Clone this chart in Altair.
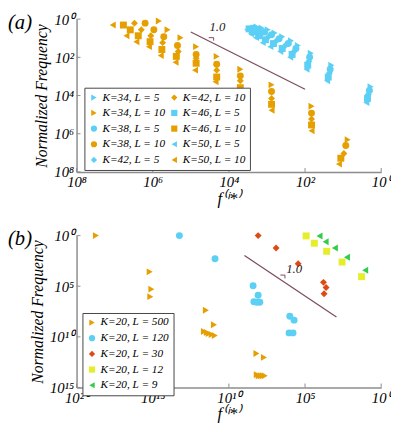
import altair as alt
import pandas as pd

FONT = "Liberation Serif"
GRAY = "#8c8c8c"
LINE_COLOR = "#7a4b5c"

ORANGE = "#E69F00"
CYAN = "#5CCFF5"
RED = "#DD4A14"
YELLOW = "#E4EE2A"
GREEN = "#33CC4A"

# ---------------- panel (a): log10 values ----------------
a_series = ["K=34, L = 5", "K=34, L = 10", "K=38, L = 5", "K=38, L = 10", "K=42, L = 5",
            "K=42, L = 10", "K=46, L = 5", "K=46, L = 10", "K=50, L = 5", "K=50, L = 10"]

a_K34_L10_x = [-5.84, -5.61, -5.27, -4.86, -4.32, -3.70, -2.88, -1.83, -0.88]
a_K34_L10_y = [-0.10, -0.56, -0.97, -1.44, -1.95, -2.62, -3.44, -4.56, -6.31]
a_K38_L10_x = [-6.20, -5.97, -5.71, -5.35, -4.86, -4.32, -3.70, -2.88, -1.83, -0.93]
a_K38_L10_y = [-0.21, -0.56, -0.92, -1.38, -1.85, -2.36, -2.97, -3.79, -4.92, -6.62]
a_K42_L10_x = [-6.48, -6.30, -6.05, -5.74, -5.33, -4.86, -4.32, -3.70, -2.88, -1.83, -0.98]
a_K42_L10_y = [-0.21, -0.56, -0.87, -1.23, -1.69, -2.05, -2.67, -3.23, -4.15, -5.23, -7.03]
a_K46_L10_x = [-6.77, -6.59, -6.38, -6.07, -5.76, -5.38, -4.86, -4.32, -3.70, -2.88, -1.83, -1.06]
a_K46_L10_y = [-0.31, -0.56, -0.87, -1.18, -1.59, -1.95, -2.31, -3.03, -3.59, -4.46, -5.54, -7.28]
a_K50_L10_x = [-7.05, -6.69, -6.43, -6.10, -5.79, -5.40, -4.89, -4.35, -3.70, -2.88, -1.83, -1.11]
a_K50_L10_y = [-0.31, -0.87, -1.18, -1.44, -1.90, -2.26, -2.67, -3.28, -3.90, -4.77, -5.85, -7.59]

a_K34_L5_x = [-3.27, -3.14, -2.98, -2.80, -2.60, -2.37, -2.19, -1.85, -1.31, -0.28]
a_K34_L5_y = [-0.41, -0.46, -0.56, -0.72, -0.92, -1.13, -1.38, -1.79, -2.41, -3.54]
a_K38_L5_x = [-3.34, -3.22, -3.06, -2.88, -2.68, -2.44, -2.24, -1.88, -1.34, -0.31]
a_K38_L5_y = [-0.46, -0.56, -0.67, -0.82, -1.03, -1.28, -1.54, -2.00, -2.62, -3.74]
a_K42_L5_x = [-3.42, -3.29, -3.14, -2.96, -2.75, -2.52, -2.29, -1.90, -1.36, -0.34]
a_K42_L5_y = [-0.46, -0.62, -0.77, -0.92, -1.13, -1.38, -1.69, -2.21, -2.82, -3.95]
a_K46_L5_x = [-3.47, -3.37, -3.22, -3.04, -2.83, -2.60, -2.34, -1.93, -1.39, -0.36]
a_K46_L5_y = [-0.51, -0.67, -0.87, -1.08, -1.28, -1.54, -1.85, -2.41, -3.03, -4.15]
a_K50_L5_x = [-3.52, -3.42, -3.29, -3.11, -2.91, -2.65, -2.39, -1.96, -1.42, -0.39]
a_K50_L5_y = [-0.56, -0.77, -0.97, -1.23, -1.44, -1.69, -2.00, -2.62, -3.23, -4.36]

a_slope_x = [-5.0, -2.0]
a_slope_y = [-0.67, -3.67]
a_corner_x = [-4.53, -4.40, -4.40]
a_corner_y = [-0.97, -0.97, -1.13]
a_note = ["1.0"]
a_note_x = [-4.30]
a_note_y = [-0.41]

a_xticks = [-8, -6, -4, -2, 0]
a_xtick_labels = ["10⁸", "10⁶", "10⁴", "10²", "10⁰"]
a_yticks = [-8, -6, -4, -2, 0]
a_ytick_labels = ["10⁸", "10⁶", "10⁴", "10²", "10⁰"]

# ---------------- panel (b) ----------------
b_series = ["K=20, L = 500", "K=20, L = 120", "K=20, L = 30", "K=20, L = 12", "K=20, L = 9"]

b_L500_x = [-18.73, -15.20, -15.09, -15.16, -11.51, -10.98, -11.64, -11.45, -11.32, -11.13, -10.93,
            -8.19, -7.70, -8.17, -8.04, -7.91, -7.78, -7.65]
b_L500_y = [0.0, -3.58, -5.29, -6.03, -7.38, -8.81, -9.48, -9.58, -9.68, -9.77, -9.87,
            -11.64, -12.03, -13.74, -13.84, -13.84, -13.84, -13.84]
b_L120_x = [-13.25, -10.91, -8.41, -8.08, -8.36, -8.17, -7.97, -6.00, -5.72, -6.05, -5.79]
b_L120_y = [0.0, -2.29, -4.96, -5.90, -6.53, -6.58, -6.58, -7.96, -8.35, -9.61, -9.61]
b_L30_x = [-8.08, -6.90, -5.45, -3.79, -3.62, -3.75]
b_L30_y = [0.0, -1.23, -2.78, -4.62, -5.13, -5.74]
b_L12_x = [-4.93, -4.39, -3.58, -2.57, -1.29]
b_L12_y = [-0.03, -0.75, -1.55, -2.61, -4.06]
b_L9_x = [-4.05, -3.65, -3.04, -2.25, -1.05]
b_L9_y = [-0.03, -0.61, -1.23, -2.13, -3.42]

b_slope_x = [-8.98, -2.94]
b_slope_y = [-1.96, -8.03]
b_corner_x = [-6.62, -6.32, -6.32]
b_corner_y = [-3.90, -3.90, -4.23]
b_note = ["1.0"]
b_note_x = [-5.72]
b_note_y = [-3.29]

b_xticks = [-20, -15, -10, -5, 0]
b_xtick_labels = ["10²⁰", "10¹⁵", "10¹⁰", "10⁵", "10⁰"]
b_yticks = [-15, -10, -5, 0]
b_ytick_labels = ["10¹⁵", "10¹⁰", "10⁵", "10⁰"]


def rows(name, xs, ys):
    return [{"s": name, "x": 10 ** x, "y": 10 ** y} for x, y in zip(xs, ys)]


def label_expr(exps, labels):
    parts = [f"round(log(datum.value)/LN10) == {e} ? '{l}'" for e, l in zip(exps, labels)]
    return " : ".join(parts) + " : ''"


def panel(df, order, colors, shapes, xdom, ydom, xticks, xlabels, yticks, ylabels,
          H, legx, legy, cols, slope, corner, note, tag):
    W = 311
    xs = alt.Scale(type="log", domain=[10 ** xdom[0], 10 ** xdom[1]], nice=False)
    ys = alt.Scale(type="log", domain=[10 ** ydom[0], 10 ** ydom[1]], nice=False)
    xaxis = alt.Axis(values=[10 ** v for v in xticks], labelExpr=label_expr(xticks, xlabels),
                     title="f⁽ⁱ*⁾", ticks=False, grid=False, domainColor=GRAY, domainWidth=1.5,
                     labelFont=FONT, labelFontStyle="italic", labelFontSize=15, labelColor="black",
                     labelOverlap=False, labelFlush=False, labelPadding=3,
                     titleFont=FONT, titleFontStyle="italic", titleFontWeight="normal",
                     titleFontSize=17, titleColor="black", titlePadding=1)
    yaxis = alt.Axis(values=[10 ** v for v in yticks], labelExpr=label_expr(yticks, ylabels),
                     title="Normalized Frequency", ticks=False, grid=False, domainColor=GRAY,
                     domainWidth=1.5, labelFont=FONT, labelFontStyle="italic", labelFontSize=15,
                     labelColor="black", labelOverlap=False, labelFlush=False, labelPadding=3,
                     titleFont=FONT, titleFontStyle="italic", titleFontWeight="normal",
                     titleFontSize=16, titleColor="black", titlePadding=4)
    leg = alt.Legend(orient="none", legendX=legx, legendY=legy, columns=cols, title=None,
                     labelFont=FONT, labelFontStyle="italic", labelFontSize=11.5, labelColor="black",
                     symbolSize=40, symbolStrokeWidth=0, padding=4, strokeColor="#444444",
                     fillColor="white", rowPadding=3, columnPadding=3, labelOffset=3)
    X = alt.X("x:Q", scale=xs, axis=xaxis)
    Y = alt.Y("y:Q", scale=ys, axis=yaxis)
    pts = alt.Chart(df).mark_point(filled=True, opacity=1, size=50).encode(
        x=X, y=Y,
        color=alt.Color("s:N", scale=alt.Scale(domain=order, range=colors), legend=leg),
        shape=alt.Shape("s:N", scale=alt.Scale(domain=order, range=shapes), legend=leg),
    )
    sl = pd.DataFrame({"x": [10 ** v for v in slope[0]], "y": [10 ** v for v in slope[1]],
                       "i": list(range(len(slope[0])))})
    cn = pd.DataFrame({"x": [10 ** v for v in corner[0]], "y": [10 ** v for v in corner[1]],
                       "i": list(range(len(corner[0])))})
    nt = pd.DataFrame({"t": note[0], "x": [10 ** v for v in note[1]], "y": [10 ** v for v in note[2]]})
    line = alt.Chart(sl).mark_line(color=LINE_COLOR, strokeWidth=1.2).encode(x=X, y=Y, order="i:Q")
    corner_l = alt.Chart(cn).mark_line(color=LINE_COLOR, strokeWidth=1).encode(x=X, y=Y, order="i:Q")
    txt = alt.Chart(nt).mark_text(font=FONT, fontStyle="italic", fontSize=13, color="#222222").encode(
        x=X, y=Y, text="t:N")
    tg = alt.Chart(pd.DataFrame({"t": [tag]})).mark_text(
        align="left", baseline="top", font=FONT, fontStyle="italic", fontSize=21, color="black"
    ).encode(text="t:N", x=alt.value(-70), y=alt.value(-7))
    xt = alt.Chart(pd.DataFrame({"x": [10 ** v for v in xticks]})).mark_rule(color=GRAY, strokeWidth=1).encode(
        x=X, y=alt.value(H), y2=alt.value(H - 4))
    yt = alt.Chart(pd.DataFrame({"y": [10 ** v for v in yticks]})).mark_rule(color=GRAY, strokeWidth=1).encode(
        y=Y, x=alt.value(0), x2=alt.value(4))
    return alt.layer(pts, line, corner_l, txt, tg, xt, yt).properties(width=W, height=H)


a_rows = []
a_rows += rows("K=34, L = 5", a_K34_L5_x, a_K34_L5_y)
a_rows += rows("K=38, L = 5", a_K38_L5_x, a_K38_L5_y)
a_rows += rows("K=42, L = 5", a_K42_L5_x, a_K42_L5_y)
a_rows += rows("K=46, L = 5", a_K46_L5_x, a_K46_L5_y)
a_rows += rows("K=50, L = 5", a_K50_L5_x, a_K50_L5_y)
a_rows += rows("K=34, L = 10", a_K34_L10_x, a_K34_L10_y)
a_rows += rows("K=38, L = 10", a_K38_L10_x, a_K38_L10_y)
a_rows += rows("K=42, L = 10", a_K42_L10_x, a_K42_L10_y)
a_rows += rows("K=46, L = 10", a_K46_L10_x, a_K46_L10_y)
a_rows += rows("K=50, L = 10", a_K50_L10_x, a_K50_L10_y)
a_df = pd.DataFrame(a_rows)

shape_for_K = {"34": "triangle-right", "38": "circle", "42": "diamond", "46": "square", "50": "triangle-left"}
a_order = a_series
a_colors = [CYAN if s.endswith("L = 5") else ORANGE for s in a_order]
a_shapes = [shape_for_K[s[2:4]] for s in a_order]

b_rows = []
b_rows += rows("K=20, L = 500", b_L500_x, b_L500_y)
b_rows += rows("K=20, L = 120", b_L120_x, b_L120_y)
b_rows += rows("K=20, L = 30", b_L30_x, b_L30_y)
b_rows += rows("K=20, L = 12", b_L12_x, b_L12_y)
b_rows += rows("K=20, L = 9", b_L9_x, b_L9_y)
b_df = pd.DataFrame(b_rows)
b_colors = [ORANGE, CYAN, RED, YELLOW, GREEN]
b_shapes = ["triangle-right", "circle", "diamond", "square", "triangle-left"]

top = panel(a_df, a_order, a_colors, a_shapes, (-8, 0), (-8, 0), a_xticks, a_xtick_labels,
            a_yticks, a_ytick_labels, 156, 8, 70, 2,
            (a_slope_x, a_slope_y), (a_corner_x, a_corner_y), (a_note, a_note_x, a_note_y), "(a)")
bottom = panel(b_df, b_series, b_colors, b_shapes, (-20, 0), (-15, 0), b_xticks, b_xtick_labels,
               b_yticks, b_ytick_labels, 155, 6, 79, 1,
               (b_slope_x, b_slope_y), (b_corner_x, b_corner_y), (b_note, b_note_x, b_note_y), "(b)")

chart = alt.vconcat(top, bottom, spacing=23).configure_view(stroke=None).resolve_scale(
    color="independent", shape="independent", x="independent", y="independent"
).properties(padding={"left": 0, "top": 0, "right": 0, "bottom": 0})

chart.save("out.html", embed_options={"renderer": "svg", "actions": False})
